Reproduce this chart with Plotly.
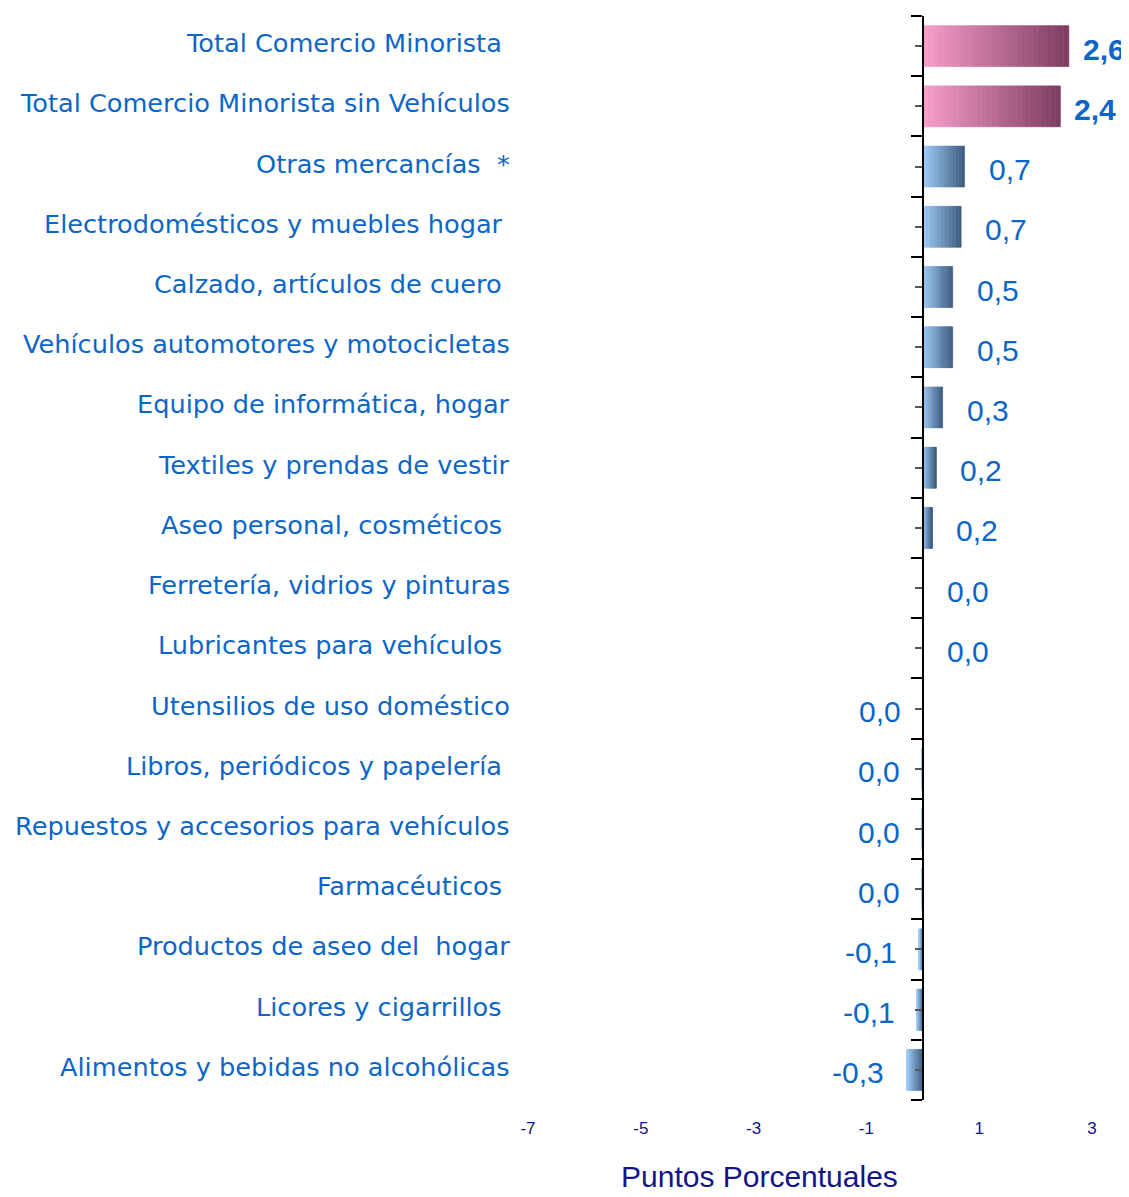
import plotly.graph_objects as go

# Categorías (de arriba hacia abajo) y contribución en puntos porcentuales
categorias = [
    "Total Comercio Minorista\u00a0",
    "Total Comercio Minorista sin Vehículos",
    "Otras mercancías  *",
    "Electrodomésticos y muebles hogar\u00a0",
    "Calzado, artículos de cuero\u00a0",
    "Vehículos automotores y motocicletas",
    "Equipo de informática, hogar",
    "Textiles y prendas de vestir",
    "Aseo personal, cosméticos\u00a0",
    "Ferretería, vidrios y pinturas",
    "Lubricantes para vehículos\u00a0",
    "Utensilios de uso doméstico",
    "Libros, periódicos y papelería\u00a0",
    "Repuestos y accesorios para vehículos",
    "Farmacéuticos\u00a0",
    "Productos de aseo del\u00a0 hogar",
    "Licores y cigarrillos\u00a0",
    "Alimentos y bebidas no alcohólicas",
]
valores = [2.59, 2.44, 0.74, 0.68, 0.53, 0.53, 0.35, 0.24, 0.17, 0.0, 0.0,
           -0.001, -0.02, -0.02, -0.02, -0.07, -0.11, -0.29]
es_total = [True, True] + [False] * 16

x_ticks = [-7, -5, -3, -1, 1, 3]

BLUE_TXT = "#0C66C8"
NAVY = "#14148A"

# gradient endpoints (left -> right)
pink = ((250, 158, 204), (124, 60, 96))
blue = ((158, 205, 248), (60, 90, 126))
N = 28


def mix(c, t):
    a, b = c
    return "rgb({},{},{})".format(*[round(a[i] + (b[i] - a[i]) * t) for i in range(3)])


def fmt(v):
    r = round(v, 1) + 0.0
    return f"{r:.1f}".replace(".", ",")


pos = list(range(len(categorias)))
line_w = [0.6 if abs(v) >= 0.05 else 0 for v in valores]

fig = go.Figure()

# stacked slices to fake the horizontal gradient of the bars
for k in range(N):
    cols = []
    for v, tot in zip(valores, es_total):
        t = (k + 0.5) / N if v >= 0 else 1 - (k + 0.5) / N
        cols.append(mix(pink if tot else blue, t))
    fig.add_trace(go.Bar(
        x=[v / N for v in valores],
        y=pos,
        orientation="h",
        marker=dict(color=cols, line=dict(width=line_w, color=cols)),
        showlegend=False,
        hoverinfo="skip",
    ))

# value labels
for i, (v, tot) in enumerate(zip(valores, es_total)):
    fig.add_annotation(
        x=v, y=i, xref="x", yref="y",
        text=f"<b>{fmt(v)}</b>" if tot else fmt(v),
        showarrow=False,
        xanchor="left" if v >= 0 else "right",
        xshift=(12 if tot else 22) if v >= 0 else -20,
        yshift=-3,
        font=dict(family="Liberation Sans, Arial", size=30, color=BLUE_TXT),
    )

# category labels
for i, c in enumerate(categorias):
    fig.add_annotation(
        x=-0.028, y=i, xref="paper", yref="y",
        text=c, showarrow=False, xanchor="right",
        yshift=3,
        font=dict(family="DejaVu Sans", size=25.6, color=BLUE_TXT),
    )

fig.add_annotation(
    x=0.411, y=-0.071, xref="paper", yref="paper",
    xanchor="center", yanchor="middle",
    text="Puntos Porcentuales", showarrow=False,
    font=dict(family="Liberation Sans, Arial", size=30, color=NAVY),
)

xmin, xmax = -7, 3
fig.update_layout(
    width=1121, height=1189,
    barmode="relative",
    bargap=0.32,
    plot_bgcolor="white",
    paper_bgcolor="white",
    margin=dict(l=520, r=37, t=8, b=97),
    xaxis=dict(
        range=[xmin, xmax],
        tickvals=x_ticks,
        ticktext=[str(t) for t in x_ticks],
        showgrid=False, zeroline=False, showline=False,
        ticks="", ticklabelstandoff=16,
        tickfont=dict(family="Liberation Sans, Arial", size=17, color=NAVY),
    ),
    yaxis=dict(
        range=[len(categorias) - 0.5, -0.5],
        anchor="free",
        position=(0 - xmin) / (xmax - xmin),
        showline=True, linecolor="black", linewidth=1.5,
        showgrid=False, zeroline=False,
        tickvals=pos, showticklabels=False,
        ticks="outside", ticklen=7, tickcolor="#555555", tickwidth=1.5,
        minor=dict(tick0=-0.5, dtick=1, ticks="outside", ticklen=11,
                   tickcolor="black", tickwidth=1.5),
    ),
)

fig.write_html("out.html")
